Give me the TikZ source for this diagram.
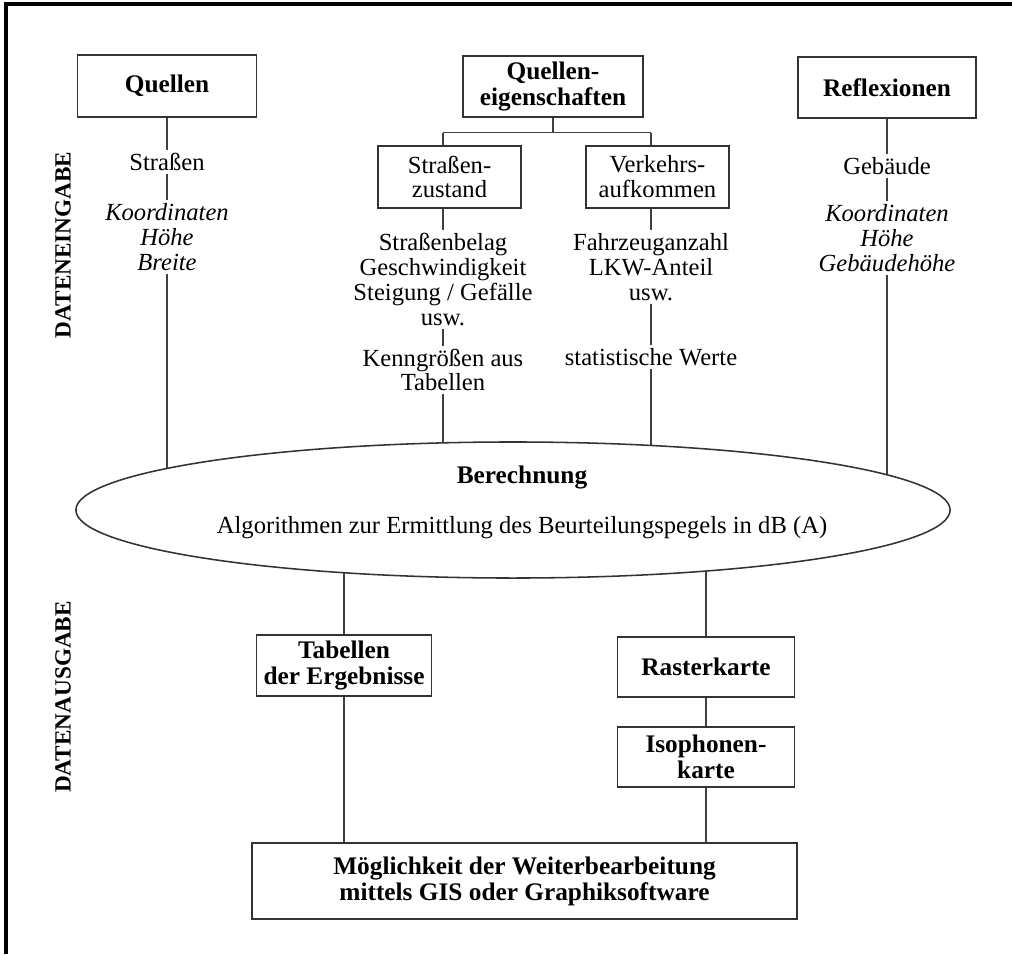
\documentclass[tikz,border=0pt]{standalone}
\usepackage{fontspec}
\setmainfont{Liberation Serif}
\usetikzlibrary{shapes.geometric, backgrounds}

\tikzset{
  txt/.style={align=center, inner sep=2pt, font=\fontsize{17.5}{17.7}\selectfont},
  itxt/.style={txt, font=\itshape\fontsize{17.5}{17.7}\selectfont},
  box/.style={draw=black!80, line width=1.2pt, align=center, inner sep=0pt, font=\bfseries\fontsize{18}{18.5}\selectfont},
  subbox/.style={box, font=\fontsize{17.5}{17.7}\selectfont, minimum width=3.575cm, minimum height=1.55cm},
  side/.style={rotate=90, font=\bfseries\fontsize{16.5}{17}\selectfont},
  con/.style={draw=black!75, line width=0.9pt}
}

\begin{document}
\begin{tikzpicture}[x=0.025cm, y=-0.025cm]
\useasboundingbox (0,0) rectangle (1012,954);
\draw[line width=2.8pt] (6,954) -- (6,4) -- (1012,4);

\node[box, minimum width=4.475cm, minimum height=1.55cm] (quellen) at (167,86) {Quellen};
\node[box, minimum width=4.5cm, minimum height=1.525cm] (qeig) at (553,86.5) {Quellen-\\eigenschaften};
\node[box, minimum width=4.45cm, minimum height=1.525cm] (refl) at (887,87.5) {Reflexionen};

\node[subbox] (szust) at (449.5,177) {Straßen-\\zustand};
\node[subbox] (verk) at (657.5,177) {Verkehrs-\\aufkommen};

\node[txt] (strassen) at (167,162) {Straßen};
\node[itxt] (qkoord) at (167,237) {Koordinaten\\Höhe\\Breite};
\node[txt] (belag) at (443,279.5) {Straßenbelag\\Geschwindigkeit\\Steigung / Gefälle\\usw.};
\node[txt] (kenn) at (443,370) {Kenngrößen aus\\Tabellen};
\node[txt] (fahrz) at (651,267) {Fahrzeuganzahl\\LKW-Anteil\\usw.};
\node[txt] (stat) at (651,357) {statistische Werte};
\node[txt] (gebaeude) at (887,166) {Gebäude};
\node[itxt] (rkoord) at (887,238) {Koordinaten\\Höhe\\Gebäudehöhe};

\node[ellipse, draw=black!80, fill=white, line width=1.1pt, minimum width=21.85cm, minimum height=3.4cm, inner sep=0pt] (ber) at (513,510) {};
\node[font=\bfseries\fontsize{18}{18.5}\selectfont] (bertitle) at (522,478) {Berechnung};
\node[txt] (beralgo) at (522,528) {Algorithmen zur Ermittlung des Beurteilungspegels in dB (A)};

\node[box, minimum width=4.375cm, minimum height=1.525cm] (tab) at (344,665.5) {Tabellen\\der Ergebnisse};
\node[box, minimum width=4.425cm, minimum height=1.5cm] (raster) at (706,667) {Rasterkarte};
\node[box, minimum width=4.425cm, minimum height=1.5cm] (iso) at (706,757) {Isophonen-\\karte};
\node[box, minimum width=13.625cm, minimum height=1.9cm] (moeg) at (524.5,881) {Möglichkeit der Weiterbearbeitung\\mittels GIS oder Graphiksoftware};

\node[side] (ein) at (63,245) {DATENEINGABE};
\node[side] (aus) at (63,697) {DATENAUSGABE};

\draw[con] (quellen) -- (strassen);
\draw[con] (strassen) -- (qkoord);
\draw[con] (refl) -- (gebaeude);
\draw[con] (gebaeude) -- (rkoord);

\draw[con] (qeig.south) -- ++(0,15) coordinate (bar);
\draw[con] (belag |- bar) -- (fahrz |- bar);
\draw[con] (belag |- bar) -- (belag |- szust.north);
\draw[con] (fahrz |- bar) -- (fahrz |- verk.north);
\draw[con] (szust.south -| belag) -- (belag);
\draw[con] (belag) -- (kenn);
\draw[con] (verk.south -| fahrz) -- (fahrz);
\draw[con] (fahrz) -- (stat);

\begin{scope}[on background layer]
\draw[con] (qkoord) -- (qkoord |- ber);
\draw[con] (kenn) -- (kenn |- ber);
\draw[con] (stat) -- (stat |- ber);
\draw[con] (rkoord) -- (rkoord |- ber);
\draw[con] (tab) -- (tab |- ber);
\draw[con] (raster) -- (raster |- ber);
\end{scope}

\draw[con] (tab) -- (tab |- moeg.north);
\draw[con] (raster) -- (iso);
\draw[con] (iso) -- (iso |- moeg.north);
\end{tikzpicture}
\end{document}
